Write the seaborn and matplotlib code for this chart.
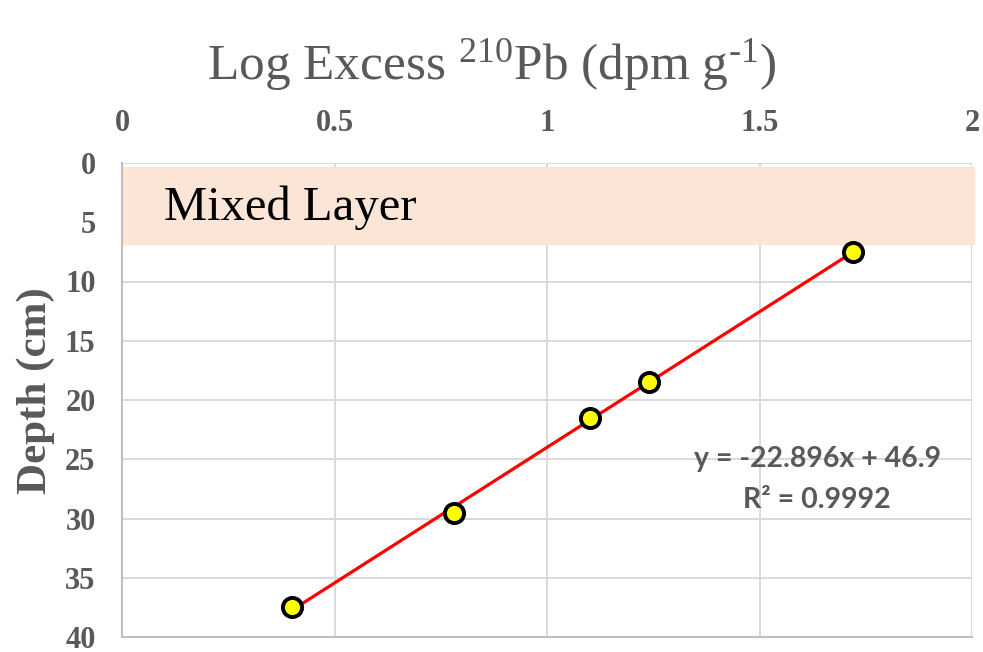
import numpy as np
import pandas as pd
import matplotlib
matplotlib.use("Agg")
import matplotlib.pyplot as plt
import seaborn as sns

# Data
log_excess = [0.40, 0.78, 1.10, 1.24, 1.72]
depth = [37.5, 29.5, 21.5, 18.5, 7.5]
x_ticks = [0, 0.5, 1, 1.5, 2]
y_ticks = [0, 5, 10, 15, 20, 25, 30, 35, 40]
mixed_layer = [0.3, 6.8]
equation_text = "y = -22.896x + 46.9"
r2_text = "R² = 0.9992"

sns.set_style("white")
plt.rcParams['font.family'] = ['Liberation Serif', 'DejaVu Serif']
plt.rcParams['mathtext.fontset'] = 'custom'
plt.rcParams['mathtext.rm'] = 'Liberation Serif'

df = pd.DataFrame({"x": log_excess, "depth": depth})
slope, intercept = np.polyfit(df["x"], df["depth"], 1)
fit = pd.DataFrame({"x": [min(log_excess), max(log_excess)]})
fit["depth"] = slope * fit["x"] + intercept

fig = plt.figure(figsize=(9.83, 6.52), dpi=100)
ax = fig.add_axes([122/983, 1-637/652, (972-122)/983, (637-163)/652])

gray = "#595959"
ax.axhspan(mixed_layer[0], mixed_layer[1], xmin=0, xmax=1.002, color="#FBE5D6", zorder=1, clip_on=False)
ax.text(0.1, 3.8, "Mixed Layer", fontsize=35, color="black", va="center", ha="left", zorder=2)

sns.lineplot(data=fit, x="x", y="depth", ax=ax, color="#FF0000", linewidth=2.3, zorder=3, sort=False)
sns.scatterplot(data=df, x="x", y="depth", ax=ax, s=190, color="#FFFF00", edgecolor="black",
                linewidth=2.8, zorder=4)

ax.set_xlim(0, 2)
ax.set_ylim(40, 0)
ax.set_xticks(x_ticks)
ax.set_xticklabels([f"{t:g}" for t in x_ticks])
ax.set_yticks(y_ticks)
ax.xaxis.tick_top()
ax.tick_params(axis="x", length=0, pad=18, labelsize=22, labelcolor=gray)
ax.tick_params(axis="y", length=0, pad=19, labelsize=22, labelcolor=gray)
for lab in ax.get_xticklabels() + ax.get_yticklabels():
    lab.set_fontweight("bold")

ax.grid(True, color="#D9D9D9", linewidth=1.4, zorder=0)
ax.set_axisbelow(True)
for side in ["top", "right"]:
    ax.spines[side].set_visible(False)
for side in ["left", "bottom"]:
    ax.spines[side].set_color("#BFBFBF")
    ax.spines[side].set_linewidth(1.5)

ax.set_xlabel("")
ax.set_ylabel("Depth (cm)", fontsize=31, fontweight="bold", color=gray)
ax.yaxis.set_label_coords(-0.079, 0.52)

fig.text(0.5, 1-65/652, "Log Excess $\\mathregular{^{210}}$Pb (dpm g$\\mathregular{^{\u20101}}$)",
         fontsize=37, color=gray, ha="center", va="center")

ax.text(1.636, 25.0, equation_text, fontsize=20.5, fontweight="bold", color=gray,
        ha="center", va="center", family=["Lato", "DejaVu Sans"], zorder=5)
ax.text(1.636, 28.4, r2_text, fontsize=20.5, fontweight="bold", color=gray,
        ha="center", va="center", family=["Lato", "DejaVu Sans"], zorder=5)

fig.savefig("out.png", dpi=100)
